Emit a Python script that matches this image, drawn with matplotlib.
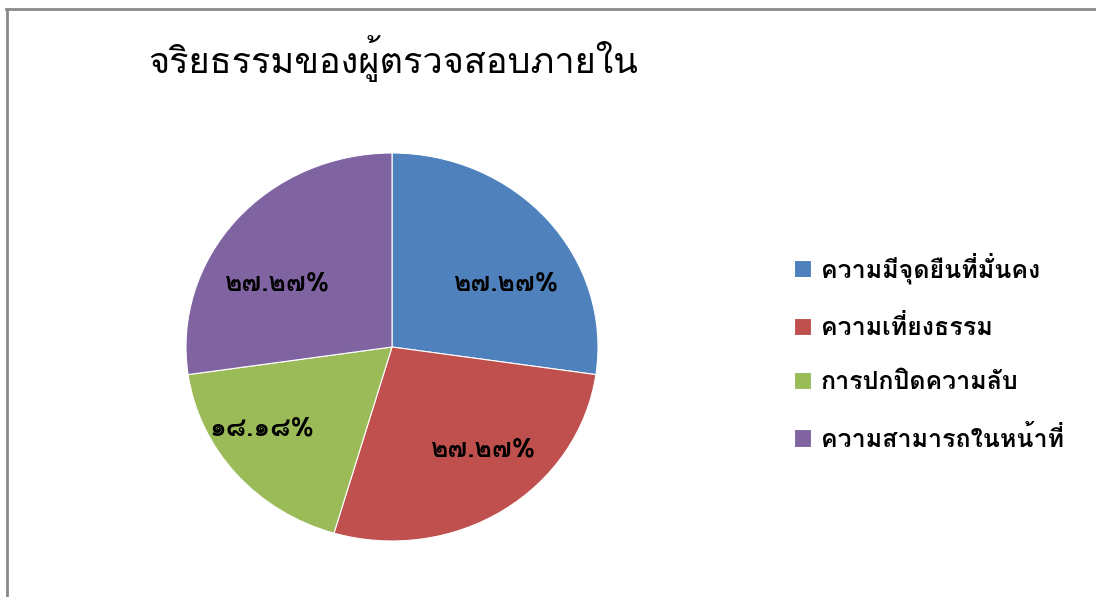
import matplotlib
matplotlib.use("Agg")
import matplotlib.pyplot as plt
from matplotlib.lines import Line2D

# Loma stacks thai tone marks properly without shaping
plt.rcParams['font.family'] = ['Loma', 'DejaVu Sans']

title = 'จริยธรรมของผู้ตรวจสอบภายใน'
labels = ['ความมีจุดยืนที่มั่นคง', 'ความเที่ยงธรรม', 'การปกปิดความลับ', 'ความสามารถในหน้าที่']
values = [27.27, 27.27, 18.18, 27.27]
colors = ['#4F81BD', '#C0504D', '#9BBB59', '#8064A2']

THAI_DIGITS = str.maketrans('0123456789', '๐๑๒๓๔๕๖๗๘๙')


def thai_pct(p):
    return f'{p:.2f}%'.translate(THAI_DIGITS)


fig = plt.figure(figsize=(10.96, 5.97), dpi=100)
ax = fig.add_axes([186 / 1096, 56 / 597, 412 / 1096, 388 / 597])

wedges, texts, autotexts = ax.pie(
    values, colors=colors, startangle=90, counterclock=False,
    autopct=thai_pct, pctdistance=0.66,
    wedgeprops=dict(edgecolor='white', linewidth=0.8),
    textprops=dict(fontsize=19, fontweight='bold', color='black'),
)
ax.set_aspect('auto')
ax.set_xlim(-1, 1)
ax.set_ylim(-1, 1)

# excel places the labels a bit off the slice middle
label_xy = [(0.55, 0.33), (0.44, -0.53), (-0.63, -0.42), (-0.56, 0.33)]
for t, (x, y) in zip(autotexts, label_xy):
    t.set_position((x, y))

fig.text(148 / 1096, 1 - 58 / 597, title, fontsize=26, va='center', ha='left')

fig.legend(wedges, labels, loc='center left', bbox_to_anchor=(771 / 1096, 1 - 352 / 597),
           frameon=False, handlelength=0.7, handleheight=0.7,
           handletextpad=0.4, labelspacing=1.25,
           prop=dict(size=18, weight='bold'))

fig.add_artist(Line2D([7 / 1096, 7 / 1096], [0, 1 - 9 / 597], transform=fig.transFigure,
                      color='#8a8a8a', linewidth=2))
fig.add_artist(Line2D([6 / 1096, 1], [1 - 9 / 597, 1 - 9 / 597], transform=fig.transFigure,
                      color='#8a8a8a', linewidth=2))

fig.savefig('out.png')
plt.close()
